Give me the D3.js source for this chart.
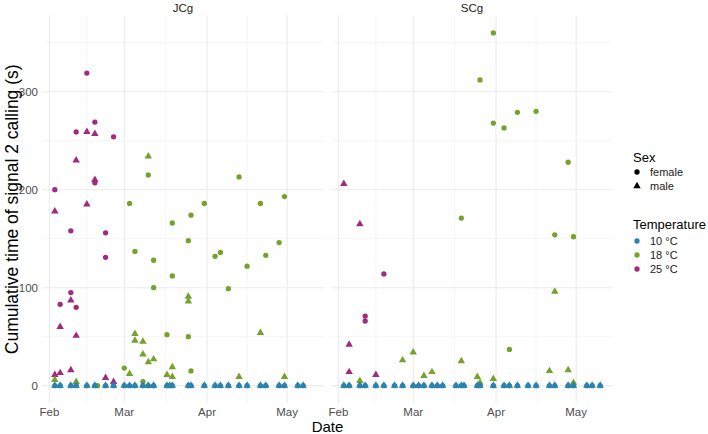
<!DOCTYPE html>
<html>
<head>
<meta charset="utf-8">
<script src="https://cdn.jsdelivr.net/npm/d3@7"></script>
<style>
body { margin: 0; background: #fff; }
text { font-family: "Liberation Sans", Arial, sans-serif; }
</style>
</head>
<body>
<svg id="chart" width="708" height="434"></svg>
<script>
// ---- data ----
var temps = ["10 °C", "18 °C", "25 °C"];
var sexes = ["female", "male"];
var panelNames = ["JCg", "SCg"];

// JCg
var jcg25Female = [["2021-02-03", 200], ["2021-02-05", 83], ["2021-02-09", 158], ["2021-02-09", 95],
  ["2021-02-11", 259], ["2021-02-11", 80], ["2021-02-15", 319], ["2021-02-18", 269], ["2021-02-18", 207],
  ["2021-02-22", 156], ["2021-02-22", 131], ["2021-02-25", 254]];
var jcg25Male = [["2021-02-03", 178], ["2021-02-03", 11], ["2021-02-05", 60], ["2021-02-05", 13],
  ["2021-02-09", 87], ["2021-02-09", 16], ["2021-02-11", 230], ["2021-02-11", 51], ["2021-02-15", 259],
  ["2021-02-15", 185], ["2021-02-18", 257], ["2021-02-18", 210], ["2021-02-22", 8], ["2021-02-25", 4]];
var jcg18Female = [["2021-02-19", 0], ["2021-03-01", 18], ["2021-03-03", 186], ["2021-03-05", 137],
  ["2021-03-10", 215], ["2021-03-08", 4], ["2021-03-12", 128], ["2021-03-12", 100], ["2021-03-17", 52],
  ["2021-03-19", 166], ["2021-03-19", 112], ["2021-03-25", 148], ["2021-03-25", 50], ["2021-03-26", 174],
  ["2021-03-26", 15], ["2021-03-31", 186], ["2021-04-04", 132], ["2021-04-06", 136], ["2021-04-09", 99],
  ["2021-04-13", 213], ["2021-04-16", 122], ["2021-04-21", 186], ["2021-04-23", 133], ["2021-04-28", 146],
  ["2021-04-30", 193]];
var jcg18Male = [["2021-02-03", 6], ["2021-02-11", 4], ["2021-03-03", 12], ["2021-03-05", 53],
  ["2021-03-05", 46], ["2021-03-10", 234], ["2021-03-08", 45], ["2021-03-08", 32], ["2021-03-10", 24],
  ["2021-03-12", 27], ["2021-03-17", 11], ["2021-03-19", 19], ["2021-03-19", 9], ["2021-03-25", 91],
  ["2021-03-25", 86], ["2021-04-13", 9], ["2021-04-21", 54], ["2021-04-30", 9]];
var jcg10Female = [["2021-02-03", 0], ["2021-02-05", 0], ["2021-02-09", 0], ["2021-02-11", 0],
  ["2021-02-15", 0], ["2021-02-18", 0], ["2021-02-22", 0], ["2021-02-25", 0], ["2021-03-01", 0],
  ["2021-03-03", 0], ["2021-03-05", 0], ["2021-03-08", 0], ["2021-03-10", 0], ["2021-03-12", 0],
  ["2021-03-17", 0], ["2021-03-18", 0], ["2021-03-19", 0], ["2021-03-25", 0], ["2021-03-26", 0],
  ["2021-03-31", 0], ["2021-04-04", 0], ["2021-04-06", 0], ["2021-04-09", 0], ["2021-04-13", 0],
  ["2021-04-16", 0], ["2021-04-21", 0], ["2021-04-23", 0], ["2021-04-28", 0], ["2021-04-30", 0],
  ["2021-05-05", 0], ["2021-05-07", 0]];
var jcg10Male = jcg10Female.slice();

// SCg
var scg25Female = [["2021-02-11", 71], ["2021-02-11", 66], ["2021-02-18", 114]];
var scg25Male = [["2021-02-03", 206], ["2021-02-05", 42], ["2021-02-05", 14], ["2021-02-09", 165],
  ["2021-02-15", 11]];
var scg18Female = [["2021-03-19", 171], ["2021-03-26", 312], ["2021-03-31", 360], ["2021-03-31", 268],
  ["2021-04-04", 263], ["2021-04-06", 37], ["2021-04-09", 279], ["2021-04-16", 280], ["2021-04-23", 154],
  ["2021-04-28", 228], ["2021-04-30", 152]];
var scg18Male = [["2021-02-09", 5], ["2021-02-25", 26], ["2021-03-01", 34], ["2021-03-05", 10],
  ["2021-03-08", 14], ["2021-03-19", 25], ["2021-03-25", 9], ["2021-03-26", 3], ["2021-03-31", 7],
  ["2021-04-21", 15], ["2021-04-23", 96], ["2021-04-28", 16], ["2021-04-30", 3]];
var scg10Female = [["2021-02-03", 0], ["2021-02-05", 0], ["2021-02-09", 0], ["2021-02-11", 0],
  ["2021-02-15", 0], ["2021-02-18", 0], ["2021-02-22", 0], ["2021-02-25", 0], ["2021-03-01", 0],
  ["2021-03-03", 0], ["2021-03-05", 0], ["2021-03-08", 0], ["2021-03-10", 0], ["2021-03-12", 0],
  ["2021-03-17", 0], ["2021-03-19", 0], ["2021-03-20", 0], ["2021-03-25", 0], ["2021-03-26", 0],
  ["2021-03-31", 0], ["2021-04-04", 0], ["2021-04-06", 0], ["2021-04-09", 0], ["2021-04-13", 0],
  ["2021-04-16", 0], ["2021-04-21", 0], ["2021-04-23", 0], ["2021-04-28", 0], ["2021-04-30", 0],
  ["2021-05-05", 0], ["2021-05-07", 0], ["2021-05-10", 0]];
var scg10Male = scg10Female.slice();

var yTicks = [0, 100, 200, 300];

// ---- layout ----
var colors = { "10 °C": "#2b82ad", "18 °C": "#76a12a", "25 °C": "#a12a7f" };
var panelTop = 15.3, panelH = 388, panelW = 282;
var panelLeft = [42, 331];

var panels = [
  { name: panelNames[0], left: panelLeft[0], series: [
    { temp: temps[2], sex: "female", values: jcg25Female }, { temp: temps[2], sex: "male", values: jcg25Male },
    { temp: temps[1], sex: "female", values: jcg18Female }, { temp: temps[1], sex: "male", values: jcg18Male },
    { temp: temps[0], sex: "female", values: jcg10Female }, { temp: temps[0], sex: "male", values: jcg10Male }] },
  { name: panelNames[1], left: panelLeft[1], series: [
    { temp: temps[2], sex: "female", values: scg25Female }, { temp: temps[2], sex: "male", values: scg25Male },
    { temp: temps[1], sex: "female", values: scg18Female }, { temp: temps[1], sex: "male", values: scg18Male },
    { temp: temps[0], sex: "female", values: scg10Female }, { temp: temps[0], sex: "male", values: scg10Male }] }
];

var parse = d3.utcParse("%Y-%m-%d");
var all = [];
panels.forEach(function(p) {
  p.series.forEach(function(s) {
    s.points = s.values.map(function(v) { return { date: parse(v[0]), value: v[1] }; });
    all = all.concat(s.points);
  });
});

// shared scales with ggplot style 5% expansion
var dMin = d3.min(all, function(d) { return d.date; }), dMax = d3.max(all, function(d) { return d.date; });
var dSpan = dMax - dMin;
var x = d3.scaleUtc()
  .domain([new Date(+dMin - dSpan * 0.05), new Date(+dMax + dSpan * 0.05)])
  .range([0, panelW]);
var vMax = d3.max(all, function(d) { return d.value; });
var y = d3.scaleLinear()
  .domain([-vMax * 0.05, vMax * 1.05])
  .range([panelH, 0]);

var xMajor = d3.utcMonth.range(d3.utcMonth.ceil(x.domain()[0]), x.domain()[1]);
var xMinor = [];
for (var i = 0; i < xMajor.length - 1; i++) {
  xMinor.push(new Date((+xMajor[i] + +xMajor[i + 1]) / 2));
}
var yMinor = yTicks.map(function(t) { return t + 50; }).filter(function(t) { return t < y.domain()[1]; });

var svg = d3.select("#chart");
var shapeSym = {
  female: d3.symbol().type(d3.symbolCircle).size(22),
  male: d3.symbol().type(d3.symbolTriangle).size(24)
};

panels.forEach(function(p) {
  var g = svg.append("g").attr("transform", "translate(" + p.left + "," + panelTop + ")");

  // grid
  g.selectAll(".ymin").data(yMinor).enter().append("line")
    .attr("x1", 0).attr("x2", panelW)
    .attr("y1", function(d) { return y(d); }).attr("y2", function(d) { return y(d); })
    .attr("stroke", "#efefef").attr("stroke-width", 0.6);
  g.selectAll(".xmin").data(xMinor).enter().append("line")
    .attr("y1", 0).attr("y2", panelH)
    .attr("x1", function(d) { return x(d); }).attr("x2", function(d) { return x(d); })
    .attr("stroke", "#efefef").attr("stroke-width", 0.6);
  g.selectAll(".ymaj").data(yTicks).enter().append("line")
    .attr("x1", 0).attr("x2", panelW)
    .attr("y1", function(d) { return y(d); }).attr("y2", function(d) { return y(d); })
    .attr("stroke", "#ebebeb").attr("stroke-width", 1.1);
  g.selectAll(".xmaj").data(xMajor).enter().append("line")
    .attr("y1", 0).attr("y2", panelH)
    .attr("x1", function(d) { return x(d); }).attr("x2", function(d) { return x(d); })
    .attr("stroke", "#ebebeb").attr("stroke-width", 1.1);

  // strip label
  svg.append("text").attr("x", p.left + panelW / 2).attr("y", 12)
    .attr("text-anchor", "middle").attr("font-size", 11.5).attr("fill", "#1a1a1a").text(p.name);

  // x tick labels
  svg.selectAll(null).data(xMajor).enter().append("text")
    .attr("x", function(d) { return p.left + x(d); }).attr("y", 416)
    .attr("text-anchor", "middle").attr("font-size", 11.5).attr("fill", "#4d4d4d")
    .text(d3.utcFormat("%b"));

  // points
  p.series.forEach(function(s) {
    g.selectAll(null).data(s.points).enter().append("path")
      .attr("d", shapeSym[s.sex])
      .attr("transform", function(d) { return "translate(" + x(d.date) + "," + y(d.value) + ")"; })
      .attr("fill", colors[s.temp]);
  });
});

// y tick labels (left panel only)
svg.selectAll(".ylab").data(yTicks).enter().append("text")
  .attr("x", panelLeft[0] - 4).attr("y", function(d) { return panelTop + y(d) + 4; })
  .attr("text-anchor", "end").attr("font-size", 11.5).attr("fill", "#4d4d4d").text(function(d) { return d; });

// axis titles
svg.append("text").attr("x", (panelLeft[0] + panelLeft[1] + panelW) / 2).attr("y", 432)
  .attr("text-anchor", "middle").attr("font-size", 15).attr("fill", "#000").text("Date");
svg.append("text")
  .attr("transform", "translate(18," + (panelTop + panelH / 2) + ") rotate(-90)")
  .attr("text-anchor", "middle").attr("font-size", 17.5).attr("fill", "#000")
  .text("Cumulative time of signal 2 calling (s)");

// legends
var lx = 633;
svg.append("text").attr("x", lx).attr("y", 162).attr("font-size", 13).attr("fill", "#000").text("Sex");
sexes.forEach(function(s, i) {
  var yy = 172 + i * 14;
  svg.append("path").attr("d", shapeSym[s]).attr("transform", "translate(" + (lx + 4) + "," + yy + ")")
    .attr("fill", "#000");
  svg.append("text").attr("x", lx + 17).attr("y", yy + 4).attr("font-size", 11).attr("fill", "#1a1a1a").text(s);
});
svg.append("text").attr("x", lx).attr("y", 229).attr("font-size", 13).attr("fill", "#000").text("Temperature");
temps.forEach(function(t, i) {
  var yy = 241 + i * 14;
  svg.append("path").attr("d", shapeSym.female).attr("transform", "translate(" + (lx + 4) + "," + yy + ")")
    .attr("fill", colors[t]);
  svg.append("text").attr("x", lx + 17).attr("y", yy + 4).attr("font-size", 11).attr("fill", "#1a1a1a").text(t);
});
</script>
</body>
</html>
